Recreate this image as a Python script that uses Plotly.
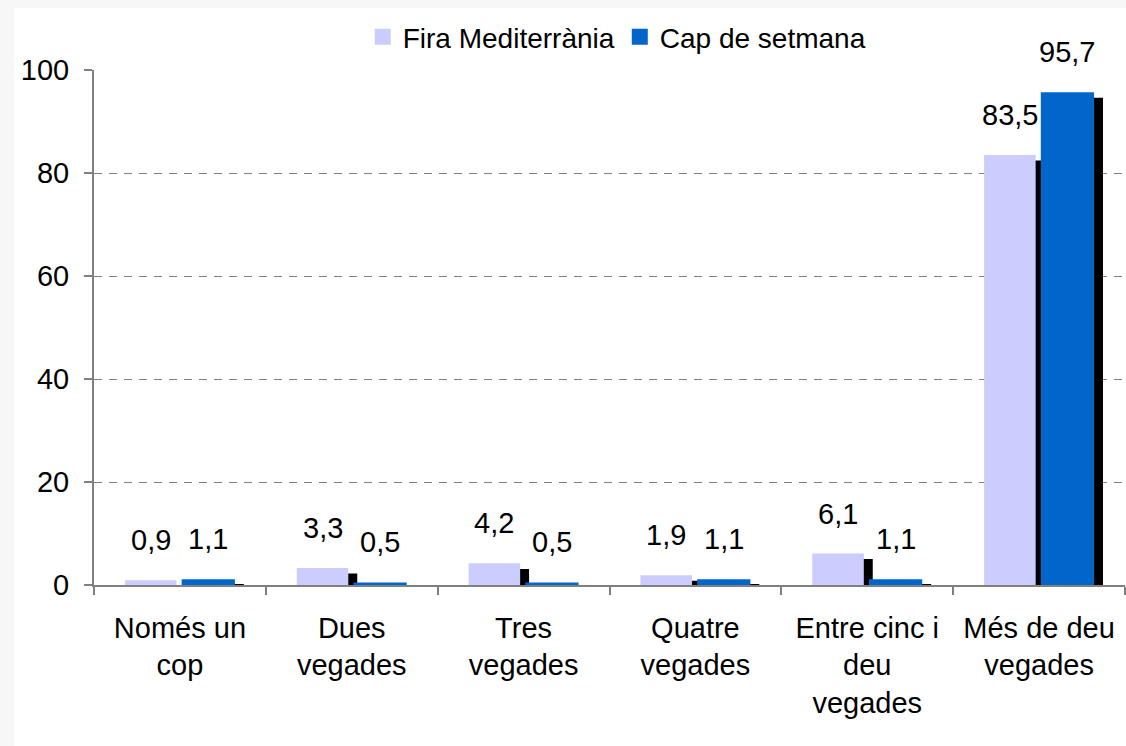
import plotly.graph_objects as go

categories = ["Només un<br>cop", "Dues<br>vegades", "Tres<br>vegades", "Quatre<br>vegades",
              "Entre cinc i<br>deu<br>vegades", "Més de deu<br>vegades"]
fira = [0.9, 3.3, 4.2, 1.9, 6.1, 83.5]
cap = [1.1, 0.5, 0.5, 1.1, 1.1, 95.7]
fira_labels = ["0,9", "3,3", "4,2", "1,9", "6,1", "83,5"]
cap_labels = ["1,1", "0,5", "0,5", "1,1", "1,1", "95,7"]

FONT = "Liberation Sans, Arial, sans-serif"
FS = 29
LIGHT = "#CCCCFF"
BLUE = "#0066CC"

# shadow offset (style)
SDX = 0.052
SDY = 1.07

fig = go.Figure()

def add_series(vals, color, offset, width, name):
    shadow = [v - SDY for v in vals]
    fig.add_trace(go.Bar(x=categories, y=shadow, offset=offset + SDX, width=width,
                         marker=dict(color="black", line=dict(width=0)),
                         showlegend=False, hoverinfo="skip"))
    fig.add_trace(go.Bar(x=categories, y=vals, offset=offset, width=width,
                         marker=dict(color=color, line=dict(width=0)),
                         name=name, showlegend=False))

add_series(fira, LIGHT, -0.32, 0.30, "Fira Mediterrània")
add_series(cap, BLUE, 0.01, 0.31, "Cap de setmana")

# legend proxies
for name, color in [("Fira Mediterrània", LIGHT), ("Cap de setmana", BLUE)]:
    fig.add_trace(go.Scatter(x=[None], y=[None], mode="markers", name=name,
                             marker=dict(symbol="square", size=19, color=color)))

W, H = 1126, 746
ml, mr, mt, mb = 94, 1, 70, 161
pw, ph = W - ml - mr, H - mt - mb
CW = pw / 6.0

# value labels
for i, c in enumerate(categories):
    fig.add_annotation(x=i, y=fira[i], xref="x", yref="y", text=fira_labels[i],
                       showarrow=False, xshift=(-0.32 + 0.15) * CW, yshift=40,
                       font=dict(family=FONT, size=FS, color="black"))
    fig.add_annotation(x=i, y=cap[i], xref="x", yref="y", text=cap_labels[i],
                       showarrow=False, xshift=(0.01 + 0.155) * CW, yshift=40,
                       font=dict(family=FONT, size=FS, color="black"))

# white panel over gray page
fig.add_shape(type="rect", xref="paper", yref="paper",
              x0=(14 - ml) / pw, x1=(W - ml + 5) / pw,
              y0=-(mb + 5) / ph, y1=1 + (mt - 8) / ph,
              fillcolor="white", line=dict(width=0), layer="below")

fig.update_layout(
    width=W, height=H,
    margin=dict(l=ml, r=mr, t=mt, b=mb),
    paper_bgcolor="#F7F7F7",
    plot_bgcolor="rgba(0,0,0,0)",
    barmode="overlay",
    font=dict(family=FONT, size=FS, color="black"),
    showlegend=True,
    legend=dict(orientation="h", x=0.507, xanchor="center", y=1 + 33 / ph, yanchor="middle",
                bgcolor="rgba(0,0,0,0)", font=dict(family=FONT, size=FS - 1, color="black"),
                itemsizing="trace", itemwidth=30, tracegroupgap=0),
    xaxis=dict(type="category", tickson="boundaries", ticks="outside", ticklen=8,
               tickcolor="#808080", tickwidth=1.5, showline=True, linecolor="#808080",
               linewidth=1.5, showgrid=False, range=[-0.5, 5.5], ticklabelstandoff=16,
               tickfont=dict(family=FONT, size=FS, color="black")),
    yaxis=dict(range=[0, 100], tickvals=[0, 20, 40, 60, 80, 100], ticks="outside",
               ticklen=8, tickcolor="#808080", tickwidth=1.5, showline=True,
               linecolor="#808080", linewidth=2, showgrid=True, gridcolor="#808080",
               gridwidth=1, griddash="8px,7px", zeroline=False, ticklabelstandoff=9,
               tickfont=dict(family=FONT, size=FS, color="black")),
)

fig.write_html("out.html", config={"displayModeBar": False},
               post_script="document.body.style.margin='0';")
